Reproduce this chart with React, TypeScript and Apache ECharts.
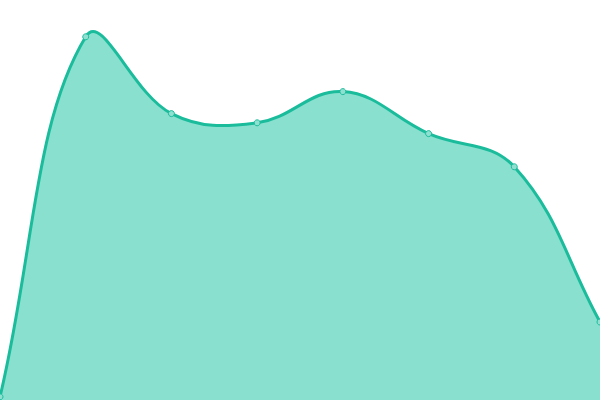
import { useEffect, useRef } from 'react';
import * as echarts from 'echarts';

const categories = ['1', '2', '3', '4', '5', '6', '7', '8'];
const values = [0.8, 90.8, 71.6, 69.3, 77.1, 66.6, 58.3, 19.5];

const TENSION = 0.4;

type Pt = number[];

// cardinal-style spline: control points from neighbours, no overshoot clamp
function splinePath(pts: Pt[]): string {
  const cps = pts.map((p, i) => {
    const prev = pts[i - 1] || p;
    const next = pts[i + 1] || p;
    const d01 = Math.hypot(p[0] - prev[0], p[1] - prev[1]);
    const d12 = Math.hypot(next[0] - p[0], next[1] - p[1]);
    const sum = d01 + d12 || 1;
    const fa = (TENSION * d01) / sum;
    const fb = (TENSION * d12) / sum;
    return {
      before: [p[0] - fa * (next[0] - prev[0]), p[1] - fa * (next[1] - prev[1])],
      after: [p[0] + fb * (next[0] - prev[0]), p[1] + fb * (next[1] - prev[1])],
    };
  });
  let d = `M${pts[0][0]},${pts[0][1]}`;
  for (let i = 1; i < pts.length; i++) {
    const a = cps[i - 1].after;
    const b = cps[i].before;
    d += ` C${a[0]},${a[1]} ${b[0]},${b[1]} ${pts[i][0]},${pts[i][1]}`;
  }
  return d;
}

export default function App() {
  const ref = useRef<HTMLDivElement | null>(null);

  useEffect(() => {
    if (!ref.current) return;
    const chart = echarts.init(ref.current, null, { renderer: 'svg' });

    chart.setOption({
      animation: false,
      grid: { left: 0, right: 0, top: 0, bottom: 0 },
      xAxis: {
        type: 'category',
        data: categories,
        boundaryGap: false,
        show: false,
      },
      yAxis: { type: 'value', min: 0, max: 100, show: false },
      series: [
        {
          type: 'custom',
          data: values.map((v, i) => [i, v]),
          clip: false,
          z: 2,
          renderItem: (params: any, api: any) => {
            if (params.dataIndex !== 0) return null;
            const pts = values.map((v, i) => api.coord([i, v]));
            const base = api.coord([0, 0])[1];
            const line = splinePath(pts);
            const last = pts[pts.length - 1];
            const area = `${line} L${last[0]},${base} L${pts[0][0]},${base} Z`;
            return {
              type: 'group',
              children: [
                {
                  type: 'path',
                  shape: { pathData: area },
                  style: { fill: '#89e0cf', stroke: 'none' },
                },
                {
                  type: 'path',
                  shape: { pathData: line },
                  style: { fill: 'none', stroke: '#1abc9c', lineWidth: 3 },
                },
              ],
            };
          },
        },
        {
          type: 'scatter',
          data: values,
          z: 5,
          symbol: 'circle',
          symbolSize: 6,
          itemStyle: { color: '#8fe0d0', borderColor: '#1abc9c', borderWidth: 1, opacity: 1 },
        },
      ],
    });

    return () => chart.dispose();
  }, []);

  return (
    <div
      ref={ref}
      style={{ width: 600, height: 400, position: 'fixed', left: 0, top: 0 }}
    />
  );
}
